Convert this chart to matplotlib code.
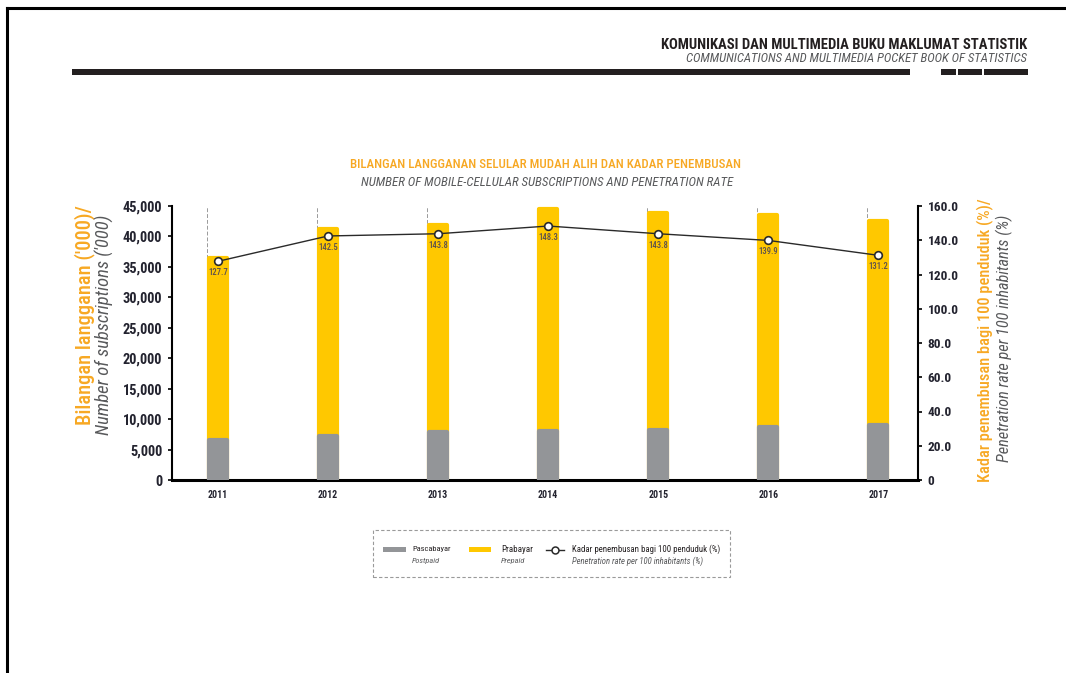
#!/usr/bin/env python3
"""Mobile-cellular subscriptions (postpaid / prepaid) and penetration rate, 2011-2017."""
import matplotlib
matplotlib.use("Agg")
import matplotlib.pyplot as plt
from matplotlib.lines import Line2D
from matplotlib.patches import Rectangle
from matplotlib.ticker import FuncFormatter
import numpy as np

YEARS = ["2011", "2012", "2013", "2014", "2015", "2016", "2017"]
POSTPAID = [6650, 7200, 7850, 8050, 8200, 8650, 9100]          # '000
TOTAL = [36500, 41200, 41900, 44500, 43850, 43500, 42500]       # '000 (postpaid + prepaid)
PENETRATION = [127.7, 142.5, 143.8, 148.3, 143.8, 139.9, 131.2]  # per 100 inhabitants

YELLOW = "#FFC800"
GREY = "#939598"
ORANGE = "#F7A823"
TXT = "#58595b"
NAVY = "#23232f"

plt.rcParams["font.family"] = ["Roboto Condensed", "Roboto", "DejaVu Sans"]
plt.rcParams["font.stretch"] = "condensed"

W, H = 1066, 673
fig = plt.figure(figsize=(W / 100, H / 100), dpi=100)
R = fig.canvas.get_renderer()


def fx(px):
    return px / W


def fy(py):
    return 1 - py / H


def fit(t, px, vertical=False):
    # scale a text's font so it spans `px` pixels like the reference
    bb = t.get_window_extent(R)
    cur = bb.height if vertical else bb.width
    t.set_fontsize(t.get_fontsize() * px / cur)
    return t


# --- page frame + running header ---------------------------------------------
fig.add_artist(Line2D([fx(7), 1.0], [fy(8), fy(8)], color="black", lw=2.2))
fig.add_artist(Line2D([fx(7), fx(7)], [fy(8), 0], color="black", lw=2.2))
fit(fig.text(fx(1027), fy(45), "KOMUNIKASI DAN MULTIMEDIA BUKU MAKLUMAT STATISTIK",
             ha="right", va="center", fontsize=10, weight="bold", color="#231f20"), 367)
fit(fig.text(fx(1027), fy(58), "COMMUNICATIONS AND MULTIMEDIA POCKET BOOK OF STATISTICS",
             ha="right", va="center", fontsize=7, style="italic", color=TXT), 343)
for x0, x1 in [(72, 910), (941, 956), (958, 982), (984, 1028)]:
    fig.add_artist(Rectangle((fx(x0), fy(74.5)), fx(x1 - x0), 5.5 / H,
                             color="#231f20", lw=0))

# --- chart title ---------------------------------------------------------------
fit(fig.text(fx(546), fy(165), "BILANGAN LANGGANAN SELULAR MUDAH ALIH DAN KADAR PENEMBUSAN",
             ha="center", va="center", fontsize=9, weight="medium", color=ORANGE), 390)
fit(fig.text(fx(547), fy(183), "NUMBER OF MOBILE-CELLULAR SUBSCRIPTIONS AND PENETRATION RATE",
             ha="center", va="center", fontsize=9, style="italic", color=TXT), 372)

# --- bars ----------------------------------------------------------------------
ax = fig.add_axes([fx(172), fy(480), fx(918 - 172), (480 - 206) / H])
x = np.arange(len(YEARS))
ax.set_xlim(-0.418, 6.36)
ax.set_ylim(0, 45000)

for xi in x:
    ax.axvline(xi - 0.1, color="#9a9a9a", lw=0.7, ls=(0, (4, 2)), zorder=0)

ax.bar(x, TOTAL, width=0.165, color=YELLOW, edgecolor=YELLOW, lw=3,
       joinstyle="round", zorder=2)
ax.bar(x, POSTPAID, width=0.165, color=GREY, edgecolor=GREY, lw=3,
       joinstyle="round", zorder=3)

ax.set_xticks(x)
ax.set_xticklabels(YEARS, weight="bold", color=NAVY)
ax.tick_params(axis="x", length=0, pad=7)
ax.set_yticks(np.arange(0, 45001, 5000))
ax.yaxis.set_major_formatter(FuncFormatter(lambda v, p: f"{int(v):,}"))
ax.tick_params(axis="y", labelcolor=NAVY, length=3, width=1.2, pad=4,
               direction="out", color="black")
for s in ("top", "right"):
    ax.spines[s].set_visible(False)
ax.spines["left"].set_linewidth(1.5)
ax.spines["bottom"].set_linewidth(2.2)

# --- penetration line ----------------------------------------------------------
ax2 = ax.twinx()
ax2.set_ylim(0, 160)
ax2.plot(x, PENETRATION, color="#2a2a2a", lw=1, marker="o", ms=5.5,
         mfc="white", mec="#2a2a2a", mew=1.2, zorder=5)
vals = [ax2.annotate(f"{v:.1f}", (xi, v), xytext=(0, -5), textcoords="offset points",
                     ha="center", va="top", fontsize=8, weight="medium", color="#5a4f4f")
        for xi, v in zip(x, PENETRATION)]
ax2.set_yticks(np.arange(0, 161, 20))
ax2.yaxis.set_major_formatter(FuncFormatter(lambda v, p: "0" if v == 0 else f"{v:.1f}"))
ax2.tick_params(axis="y", labelcolor=NAVY, length=3, width=1.2, pad=4,
                direction="out", color="black")
for s in ("top", "left", "bottom"):
    ax2.spines[s].set_visible(False)
ax2.spines["right"].set_linewidth(1.5)

# size tick labels from their measured widths
fig.canvas.draw()
for labels, px in [(ax.get_yticklabels(), 40),
                   (ax2.get_yticklabels(), 31),
                   (ax.get_xticklabels(), 20)]:
    for lab in labels:
        lab.set_fontweight("bold")
    widest = max(labels, key=lambda l: len(l.get_text()))
    fit(widest, px)
    for lab in labels:
        lab.set_fontsize(widest.get_fontsize())
fit(vals[0], 20)
for t in vals:
    t.set_fontsize(vals[0].get_fontsize())

# --- axis titles ---------------------------------------------------------------
fit(fig.text(fx(85), fy(315), "Bilangan langganan ('000)/", rotation=90,
             ha="center", va="center", fontsize=13, weight="medium", color=ORANGE), 220, True)
fit(fig.text(fx(104), fy(325), "Number of subscriptions ('000)", rotation=90,
             ha="center", va="center", fontsize=13, style="italic", color=TXT), 220, True)
fit(fig.text(fx(985), fy(340), "Kadar penembusan bagi 100 penduduk (%)/", rotation=90,
             ha="center", va="center", fontsize=13, weight="medium", color=ORANGE), 284, True)
fit(fig.text(fx(1004), fy(338), "Penetration rate per 100 inhabitants (%)", rotation=90,
             ha="center", va="center", fontsize=13, style="italic", color=TXT), 247, True)

# --- legend (drawn by hand: two-line bilingual labels) -------------------------
fig.add_artist(Rectangle((fx(373), fy(577)), fx(730 - 373), (577 - 530) / H,
                         fill=False, ec="#9a9a9a", lw=0.8, ls=(0, (3, 2))))
fig.add_artist(Rectangle((fx(383), fy(552)), fx(23), 5 / H, color=GREY, lw=0))
fig.add_artist(Rectangle((fx(469), fy(552)), fx(22), 5 / H, color=YELLOW, lw=0))
fig.add_artist(Line2D([fx(546), fx(564)], [fy(549.5), fy(549.5)], color="#2a2a2a", lw=1))
fig.add_artist(Line2D([fx(555)], [fy(549.5)], marker="o", ms=5, mfc="white",
                      mec="#2a2a2a", mew=1.1, lw=0))
for xt, top, bot, wt, wb in [(412, "Pascabayar", "Postpaid", 39, 28),
                             (501, "Prabayar", "Prepaid", 32, 24),
                             (572, "Kadar penembusan bagi 100 penduduk (%)",
                              "Penetration rate per 100 inhabitants (%)", 147, 131)]:
    fit(fig.text(fx(xt), fy(549), top, ha="left", va="center", fontsize=6.5,
                 color="#231f20"), wt)
    fit(fig.text(fx(xt), fy(561), bot, ha="left", va="center", fontsize=6.5,
                 style="italic", color=TXT), wb)

fig.savefig("out.png", dpi=100)
